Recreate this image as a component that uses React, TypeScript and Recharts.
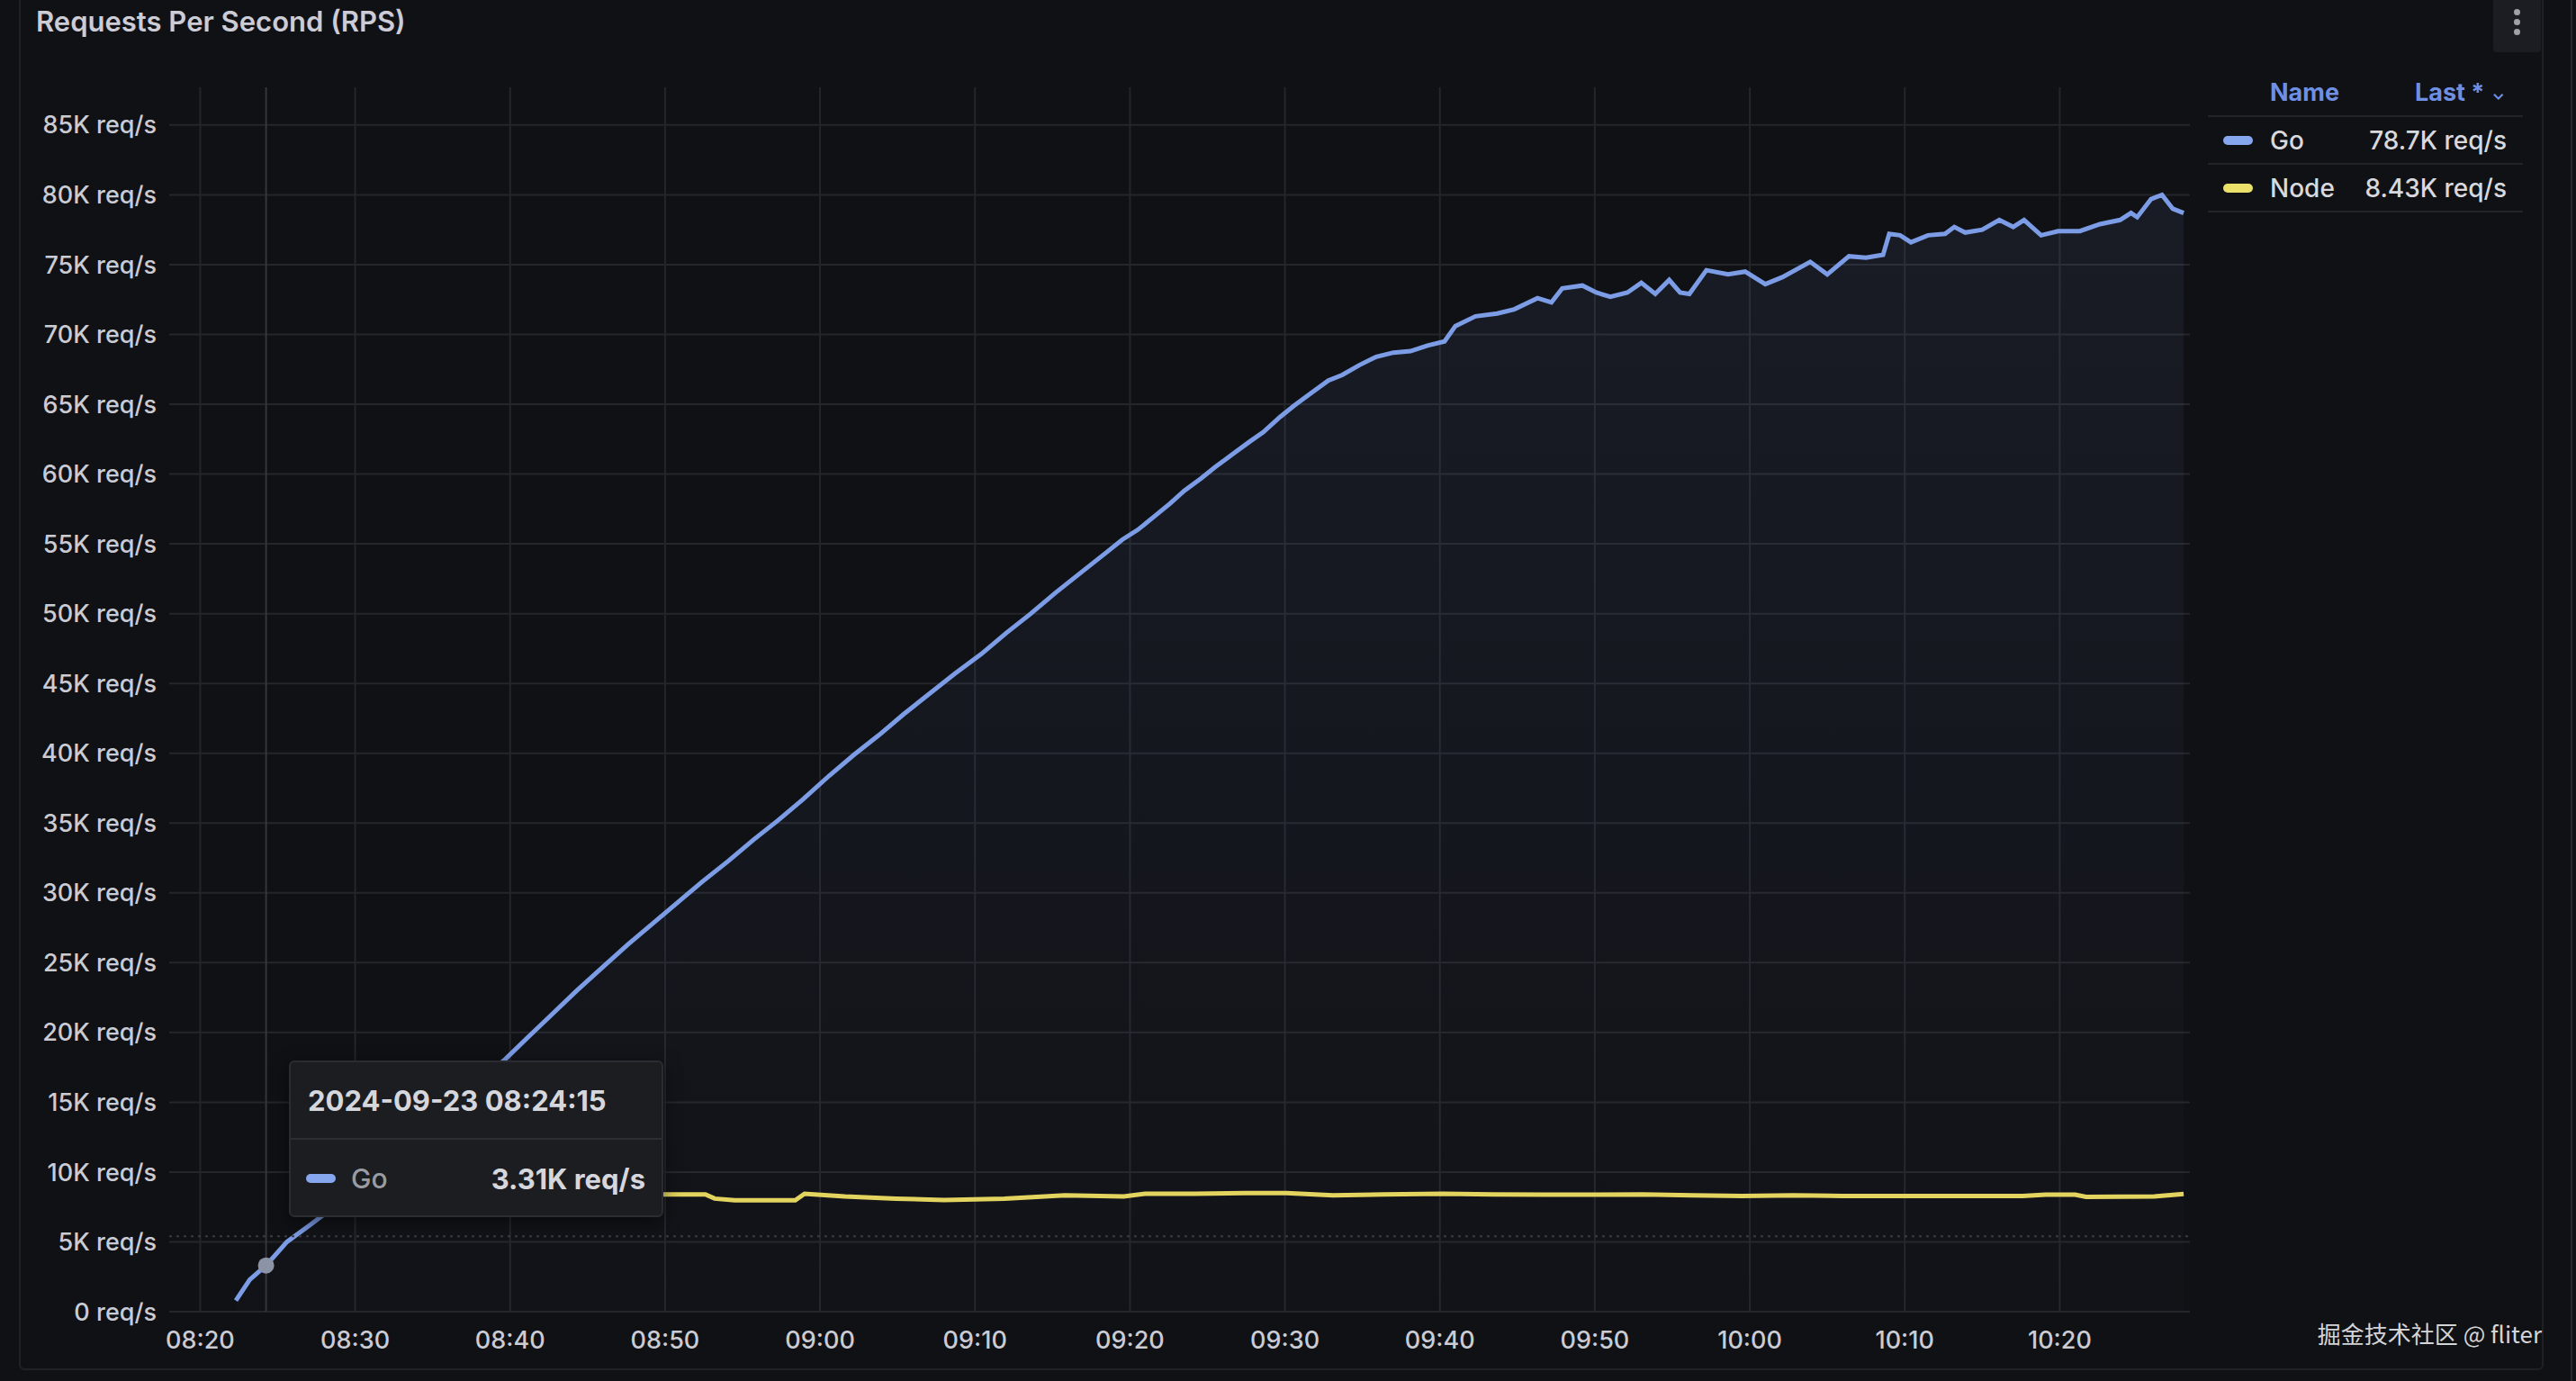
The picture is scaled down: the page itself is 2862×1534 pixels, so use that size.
import {
  ComposedChart,
  Area,
  Line,
  XAxis,
  YAxis,
  CartesianGrid,
  Tooltip,
  ReferenceLine,
} from 'recharts'

const panelTitle = 'Requests Per Second (RPS)'
const day = '2024-09-23'
const watermark = '掘金技术社区 @ fliter'

// [minutes after 08:00, K req/s]
const goSeries: Array<[number, number]> = [
  [22.3, 0.8], [23.2, 2.3], [24.25, 3.31], [25.6, 5.0], [27.2, 6.3],
  [28.5, 7.4], [30, 8.7], [32, 10.5], [34, 12.5], [36, 14.5], [38, 16.5],
  [39.7, 18.1], [41.1, 19.6], [42.7, 21.3], [44.3, 23.0], [46.0, 24.7],
  [47.6, 26.3], [49.2, 27.8], [50.8, 29.3], [52.4, 30.8], [54.1, 32.3],
  [55.7, 33.8], [57.3, 35.2], [58.9, 36.7], [60.6, 38.4], [62.2, 39.9],
  [63.8, 41.3], [65.4, 42.8], [67.1, 44.3], [68.7, 45.7], [70.4, 47.1],
  [72.0, 48.6], [73.6, 50.0], [75.2, 51.5], [76.9, 53.0], [78.5, 54.4],
  [79.5, 55.3], [80.5, 56.0], [81.5, 56.9], [82.6, 57.9], [83.5, 58.8],
  [84.6, 59.7], [85.5, 60.5], [86.6, 61.4], [87.7, 62.3], [88.6, 63.0],
  [89.7, 64.1], [90.6, 64.9], [91.7, 65.8], [92.8, 66.7], [93.7, 67.1],
  [94.8, 67.8], [95.9, 68.4], [97.0, 68.7], [98.1, 68.8], [99.2, 69.2],
  [100.3, 69.5], [101.0, 70.6], [102.3, 71.3], [103.7, 71.5], [104.8, 71.8],
  [106.3, 72.6], [107.2, 72.3], [107.9, 73.3], [109.2, 73.5], [110.1, 73.0],
  [111.0, 72.7], [112.1, 73.0], [113.0, 73.7], [113.9, 72.9], [114.8, 73.9],
  [115.5, 73.0], [116.1, 72.9], [117.2, 74.6], [118.6, 74.3], [119.7, 74.5],
  [121.0, 73.6], [122.1, 74.1], [123.9, 75.2], [125.0, 74.3], [126.4, 75.6],
  [127.5, 75.5], [128.6, 75.7], [129.0, 77.2], [129.7, 77.1], [130.4, 76.6],
  [131.5, 77.1], [132.6, 77.2], [133.2, 77.7], [133.9, 77.3], [135.0, 77.5],
  [136.1, 78.2], [137.0, 77.7], [137.7, 78.2], [138.8, 77.1], [139.9, 77.4],
  [141.3, 77.4], [142.6, 77.9], [143.9, 78.2], [144.6, 78.7], [145.0, 78.4],
  [145.9, 79.7], [146.6, 80.0], [147.3, 79.0], [148.0, 78.7],
]

const nodeSeries: Array<[number, number]> = [
  [38.0, 8.4], [49.7, 8.4], [52.6, 8.4], [53.2, 8.1], [54.5, 7.98],
  [58.4, 7.98], [59.0, 8.45], [61.6, 8.26], [64.9, 8.1], [68.0, 8.0],
  [71.9, 8.1], [75.8, 8.33], [79.6, 8.26], [81.0, 8.45], [84.2, 8.45],
  [87.4, 8.5], [90.1, 8.5], [93.1, 8.33], [96.4, 8.4], [100.2, 8.45],
  [103.4, 8.4], [106.7, 8.38], [109.9, 8.38], [113.1, 8.4], [116.3, 8.33],
  [119.5, 8.29], [122.8, 8.33], [126.0, 8.29], [135.1, 8.29], [137.6, 8.29],
  [139.1, 8.38], [141.0, 8.38], [141.7, 8.22], [146.1, 8.25], [148.0, 8.43],
]

const xTicks = [20, 30, 40, 50, 60, 70, 80, 90, 100, 110, 120, 130, 140]
const yTicks = [
  0, 5000, 10000, 15000, 20000, 25000, 30000, 35000, 40000, 45000,
  50000, 55000, 60000, 65000, 70000, 75000, 80000, 85000,
]
const hoverMinute = 24.25
const hoverLevel = 5400

const goColor = '#7c9ce6'
const nodeColor = '#e3d35f'
const font = 'Inter, "Noto Sans", sans-serif'

const goMap = new Map(goSeries)
const nodeMap = new Map(nodeSeries)
const rows = Array.from(new Set([...goMap.keys(), ...nodeMap.keys()]))
  .sort((a, b) => a - b)
  .map((t) => ({
    t,
    go: goMap.has(t) ? goMap.get(t)! * 1000 : null,
    node: nodeMap.has(t) ? nodeMap.get(t)! * 1000 : null,
  }))
const hoverIndex = rows.findIndex((r) => r.t === hoverMinute)

const pad = (n: number) => String(n).padStart(2, '0')
function clock(m: number, seconds = false) {
  const total = Math.round(m * 60)
  const h = 8 + Math.floor(total / 3600)
  const mm = Math.floor((total % 3600) / 60)
  const base = `${pad(h)}:${pad(mm)}`
  return seconds ? `${base}:${pad(total % 60)}` : base
}
const tickRate = (v: number) => (v === 0 ? '0 req/s' : `${v / 1000}K req/s`)
const valueRate = (v: number) => `${(v / 1000).toPrecision(3)}K req/s`

const legendRows = [
  { name: 'Go', color: '#86a7ee', last: goSeries[goSeries.length - 1][1] * 1000 },
  { name: 'Node', color: '#ebe06a', last: nodeSeries[nodeSeries.length - 1][1] * 1000 },
]

// eslint-disable-next-line @typescript-eslint/no-explicit-any
function HoverBox({ payload }: any) {
  if (!payload || !payload.length) return null
  const items = payload.filter((p: any) => p.value != null)
  const t = payload[0].payload.t
  return (
    <div
      style={{
        width: 416,
        height: 174,
        boxSizing: 'border-box',
        background: '#1c1d21',
        border: '2px solid #2a2c31',
        borderRadius: 6,
        fontFamily: font,
        boxShadow: '0 6px 20px rgba(0,0,0,0.5)',
      }}
    >
      <div
        style={{
          height: 84,
          display: 'flex',
          alignItems: 'center',
          paddingLeft: 19,
          borderBottom: '2px solid #2c2e34',
          fontSize: 31,
          fontWeight: 700,
          color: '#d6d7dd',
        }}
      >
        {day} {clock(t, true)}
      </div>
      {items.map((p: any) => (
        <div
          key={p.dataKey}
          style={{ height: 86, display: 'flex', alignItems: 'center', padding: '0 18px 0 17px' }}
        >
          <span style={{ width: 33, height: 10, borderRadius: 5, background: '#86a7ee' }} />
          <span style={{ marginLeft: 17, fontSize: 30, fontWeight: 500, color: '#9a9ca4' }}>
            {p.dataKey === 'go' ? 'Go' : 'Node'}
          </span>
          <span style={{ marginLeft: 'auto', fontSize: 31, fontWeight: 700, color: '#d6d7dd' }}>
            {valueRate(p.value)}
          </span>
        </div>
      ))}
    </div>
  )
}

export default function App() {
  const tick = { fontSize: 27, fill: '#cacbd3', fontFamily: font, fontWeight: 500 }
  return (
    <div
      style={{
        position: 'absolute',
        left: 0,
        top: 0,
        width: 2862,
        height: 1534,
        overflow: 'hidden',
        background: '#101115',
        fontFamily: font,
      }}
    >
      {/* panel frame */}
      <div
        style={{
          position: 'absolute',
          left: 21,
          top: -10,
          width: 2805,
          height: 1532,
          boxSizing: 'border-box',
          border: '2px solid #1f2126',
          borderRadius: 6,
        }}
      />
      <div style={{ position: 'absolute', left: 2856, top: 0, width: 2, height: 1534, background: '#26282d' }} />
      <div
        style={{
          position: 'absolute',
          left: 40,
          top: 5,
          fontSize: 31,
          fontWeight: 600,
          color: '#ccccd6',
        }}
      >
        {panelTitle}
      </div>
      {/* panel menu */}
      <div
        style={{
          position: 'absolute',
          left: 2770,
          top: -6,
          width: 53,
          height: 64,
          background: '#1c1d22',
          borderRadius: 4,
        }}
      >
        {[19, 30, 41].map((y) => (
          <div
            key={y}
            style={{
              position: 'absolute',
              left: 23,
              top: y - 3,
              width: 7,
              height: 7,
              borderRadius: 4,
              background: '#9fa1a9',
            }}
          />
        ))}
      </div>

      <div style={{ position: 'absolute', left: 0, top: 0 }}>
        <ComposedChart
          width={2862}
          height={1534}
          data={rows}
          margin={{ top: 97, right: 429, bottom: 17, left: 0 }}
        >
          <defs>
            <linearGradient id="goFill" x1="0" y1="0" x2="0" y2="1">
              <stop offset="0%" stopColor={goColor} stopOpacity={0.13} />
              <stop offset="100%" stopColor={goColor} stopOpacity={0.02} />
            </linearGradient>
          </defs>
          <CartesianGrid
            stroke="#24262b"
            strokeWidth={2}
            horizontalValues={yTicks}
            verticalValues={xTicks}
          />
          <XAxis
            dataKey="t"
            type="number"
            domain={[18, 148.4]}
            ticks={xTicks}
            interval={0}
            allowDataOverflow
            tickFormatter={(v: number) => clock(v)}
            tick={tick}
            tickLine={false}
            axisLine={false}
            height={60}
            tickMargin={16}
          />
          <YAxis
            type="number"
            domain={[0, 87700]}
            ticks={yTicks}
            interval={0}
            allowDataOverflow
            tickFormatter={tickRate}
            tick={tick}
            tickLine={false}
            axisLine={false}
            width={188}
            tickMargin={8}
          />
          <ReferenceLine y={hoverLevel} stroke="#3a3c44" strokeWidth={2} strokeDasharray="3 5" />
          <Area
            type="linear"
            dataKey="go"
            stroke={goColor}
            strokeWidth={5}
            fill="url(#goFill)"
            connectNulls
            dot={false}
            activeDot={{ r: 9, fill: '#8c93a6', stroke: 'none' }}
            isAnimationActive={false}
          />
          <Line
            type="linear"
            dataKey="node"
            stroke={nodeColor}
            strokeWidth={5}
            connectNulls
            dot={false}
            activeDot={false}
            isAnimationActive={false}
          />
          <Tooltip
            active
            defaultIndex={hoverIndex}
            position={{ x: 321, y: 1178 }}
            cursor={{ stroke: '#34363c', strokeWidth: 2 }}
            content={<HoverBox />}
            isAnimationActive={false}
          />
        </ComposedChart>
      </div>

      {/* legend table */}
      <div style={{ position: 'absolute', left: 2453, top: 76, width: 350 }}>
        <div
          style={{
            height: 52,
            position: 'relative',
            borderBottom: '2px solid #222429',
            color: '#6f8fe2',
            fontSize: 27,
            fontWeight: 700,
          }}
        >
          <span style={{ position: 'absolute', left: 69, top: 10 }}>Name</span>
          <span style={{ position: 'absolute', left: 230, top: 10 }}>
            Last *
            <span style={{ fontSize: 18, marginLeft: 8, verticalAlign: 'middle' }}>⌄</span>
          </span>
        </div>
        {legendRows.map((r) => (
          <div
            key={r.name}
            style={{
              height: 51,
              position: 'relative',
              borderBottom: '2px solid #222429',
              display: 'flex',
              alignItems: 'center',
              fontSize: 28,
              fontWeight: 500,
              color: '#d8d9de',
            }}
          >
            <span
              style={{
                position: 'absolute',
                left: 17,
                width: 33,
                height: 10,
                borderRadius: 5,
                background: r.color,
              }}
            />
            <span style={{ position: 'absolute', left: 69 }}>{r.name}</span>
            <span style={{ position: 'absolute', right: 18 }}>{valueRate(r.last)}</span>
          </div>
        ))}
      </div>

      <div
        style={{
          position: 'absolute',
          right: 2862 - 2824,
          top: 1462,
          fontSize: 26,
          color: '#d4d4d6',
          fontFamily: '"Noto Sans CJK SC", "Noto Sans", sans-serif',
        }}
      >
        {watermark}
      </div>
    </div>
  )
}
